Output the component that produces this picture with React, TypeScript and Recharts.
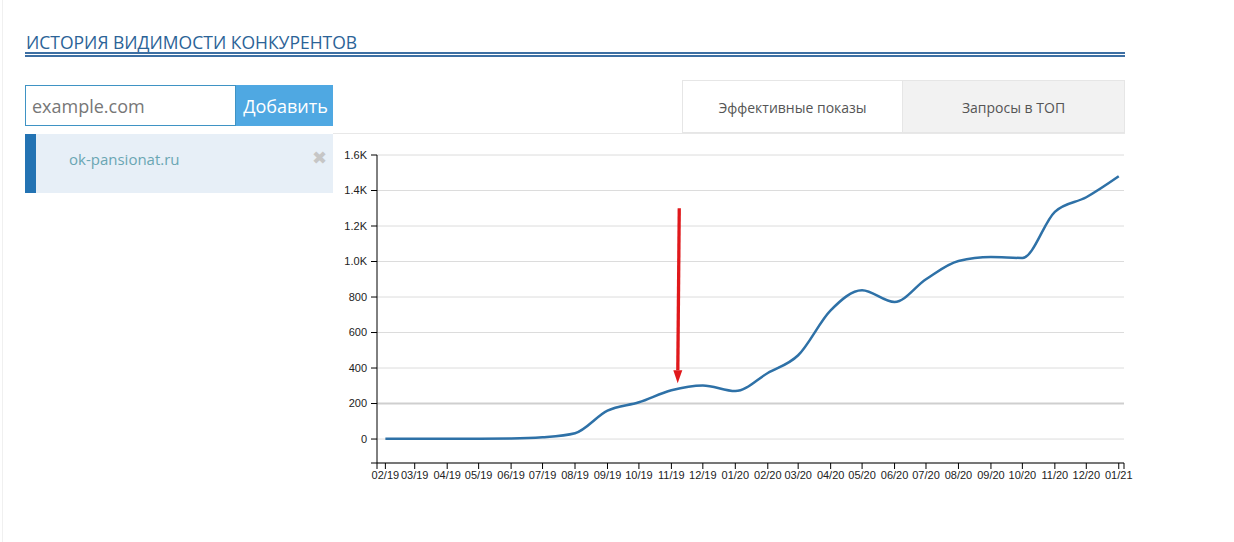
import React from "react";
import { LineChart, Line, XAxis, YAxis, CartesianGrid, ReferenceLine } from "recharts";

const months = [
  "02/19", "03/19", "04/19", "05/19", "06/19", "07/19", "08/19", "09/19",
  "10/19", "11/19", "12/19", "01/20", "02/20", "03/20", "04/20", "05/20",
  "06/20", "07/20", "08/20", "09/20", "10/20", "11/20", "12/20", "01/21",
];

const visibility = [
  2, 2, 2, 2, 3, 10, 33, 160,
  207, 275, 302, 270, 372, 472, 725, 838,
  772, 900, 1003, 1025, 1020, 1280, 1362, 1480,
];

const yTicks = [0, 200, 400, 600, 800, 1000, 1200, 1400, 1600];
const Y_MIN = -135;
const Y_MAX = 1600;
const X_START = Date.UTC(2019, 0, 24);
const X_END = Date.UTC(2021, 0, 6);

// red arrow annotation (data coordinates)
const arrowFrom = { t: Date.UTC(2019, 10, 8, 12), v: 1300 };
const arrowTo = { t: Date.UTC(2019, 10, 7), v: 314 };

function monthToTime(label: string) {
  const [mm, yy] = label.split("/").map(Number);
  return Date.UTC(2000 + yy, mm - 1, 1);
}

const monthTimes = months.map(monthToTime);
const data = months.map((m, i) => ({ t: monthTimes[i], month: m, value: visibility[i] }));
const xTicks = [X_START, ...monthTimes, X_END];

const axisFont = { fill: "#222", fontSize: 11, fontFamily: "Liberation Sans, Arial, sans-serif" };

function formatX(t: number) {
  const i = monthTimes.indexOf(t);
  return i >= 0 ? months[i] : "";
}

function formatY(v: number) {
  if (v === Y_MIN) return "";
  return v >= 1000 ? `${(v / 1000).toFixed(1)}K` : `${v}`;
}

function ArrowShape(props: any) {
  const { x1, y1, x2, y2 } = props;
  const dx = x2 - x1;
  const dy = y2 - y1;
  const len = Math.hypot(dx, dy) || 1;
  const ux = dx / len;
  const uy = dy / len;
  const head = 13;
  const half = 4.5;
  const bx = x2 - ux * head;
  const by = y2 - uy * head;
  const px = -uy;
  const py = ux;
  return (
    <g>
      <line x1={x1} y1={y1} x2={bx} y2={by} stroke="#e0181b" strokeWidth={3.3} />
      <polygon
        points={`${x2},${y2} ${bx + px * half},${by + py * half} ${bx - px * half},${by - py * half}`}
        fill="#e0181b"
      />
    </g>
  );
}

const ui = "'Open Sans', sans-serif";

export default function App() {
  return (
    <div
      style={{
        position: "absolute",
        left: 0,
        top: 0,
        width: 1234,
        height: 542,
        background: "#fff",
        overflow: "hidden",
        fontFamily: ui,
      }}
    >
      <div style={{ position: "absolute", left: 2, top: 0, width: 1, height: 542, background: "#f0f0f0" }} />

      <div style={{ position: "absolute", left: 26, top: 30, lineHeight: "24px", fontSize: 17.5, color: "#2b6397" }}>
        ИСТОРИЯ ВИДИМОСТИ КОНКУРЕНТОВ
      </div>
      <div
        style={{
          position: "absolute",
          left: 25,
          top: 52,
          width: 1100,
          height: 1,
          borderTop: "2px solid #3d6fa3",
          borderBottom: "2px solid #3d6fa3",
        }}
      />

      {/* input + button */}
      <div
        style={{
          position: "absolute",
          left: 25,
          top: 85,
          width: 211,
          height: 41,
          border: "1px solid #3f93c4",
          display: "flex",
          alignItems: "center",
          paddingLeft: 6,
          boxSizing: "border-box",
          fontSize: 18,
          color: "#777",
        }}
      >
        example.com
      </div>
      <div
        style={{
          position: "absolute",
          left: 236,
          top: 85,
          width: 97,
          height: 41,
          background: "#4fa8e2",
          color: "#fff",
          fontSize: 18,
          display: "flex",
          alignItems: "center",
          justifyContent: "center",
          paddingLeft: 2,
          boxSizing: "border-box",
        }}
      >
        Добавить
      </div>

      {/* competitor list */}
      <div style={{ position: "absolute", left: 25, top: 134, width: 308, height: 59, background: "#e7eff7" }} />
      <div style={{ position: "absolute", left: 25, top: 134, width: 11, height: 59, background: "#2373b3" }} />
      <div style={{ position: "absolute", left: 69, top: 149, lineHeight: "20px", fontSize: 15, color: "#6aa6b3" }}>
        ok-pansionat.ru
      </div>
      <div
        style={{
          position: "absolute",
          left: 312,
          top: 147,
          lineHeight: "22px",
          fontSize: 18,
          color: "#c6c6c6",
          fontFamily: "DejaVu Sans, sans-serif",
        }}
      >
        ✖
      </div>

      {/* tabs */}
      <div style={{ position: "absolute", left: 333, top: 133, width: 792, height: 1, background: "#e8e8e8" }} />
      <div
        style={{
          position: "absolute",
          left: 682,
          top: 80,
          width: 221,
          height: 53,
          boxSizing: "border-box",
          border: "1px solid #e6e6e6",
          background: "#fff",
          display: "flex",
          alignItems: "center",
          justifyContent: "center",
          fontSize: 14,
          color: "#555",
          paddingTop: 1,
        }}
      >
        Эффективные показы
      </div>
      <div
        style={{
          position: "absolute",
          left: 903,
          top: 80,
          width: 222,
          height: 53,
          boxSizing: "border-box",
          border: "1px solid #e6e6e6",
          borderLeft: "none",
          background: "#f2f2f2",
          display: "flex",
          alignItems: "center",
          justifyContent: "center",
          fontSize: 14,
          color: "#555",
          paddingTop: 1,
        }}
      >
        Запросы в ТОП
      </div>

      <div style={{ position: "absolute", left: 330, top: 140 }}>
        <LineChart width={810} height={360} data={data} margin={{ top: 15, right: 16, bottom: 7, left: 0 }}>
          <CartesianGrid horizontal vertical={false} stroke="#dcdcdc" />
          <ReferenceLine y={200} stroke="#cfcfcf" strokeWidth={2} />
          <XAxis
            dataKey="t"
            type="number"
            domain={[X_START, X_END]}
            ticks={xTicks}
            interval={0}
            tickFormatter={formatX}
            stroke="#000"
            tick={axisFont}
            tickSize={6}
            tickMargin={2}
            height={30}
          />
          <YAxis
            type="number"
            domain={[Y_MIN, Y_MAX]}
            ticks={[Y_MIN, ...yTicks]}
            interval={0}
            tickFormatter={formatY}
            stroke="#000"
            tick={axisFont}
            tickSize={6}
            tickMargin={4}
            width={47}
          />
          <Line
            type="monotone"
            dataKey="value"
            stroke="#2e71a7"
            strokeWidth={2.5}
            dot={false}
            activeDot={false}
            isAnimationActive={false}
          />
          <ReferenceLine
            segment={[
              { x: arrowFrom.t, y: arrowFrom.v },
              { x: arrowTo.t, y: arrowTo.v },
            ]}
            shape={ArrowShape}
          />
        </LineChart>
      </div>
    </div>
  );
}
